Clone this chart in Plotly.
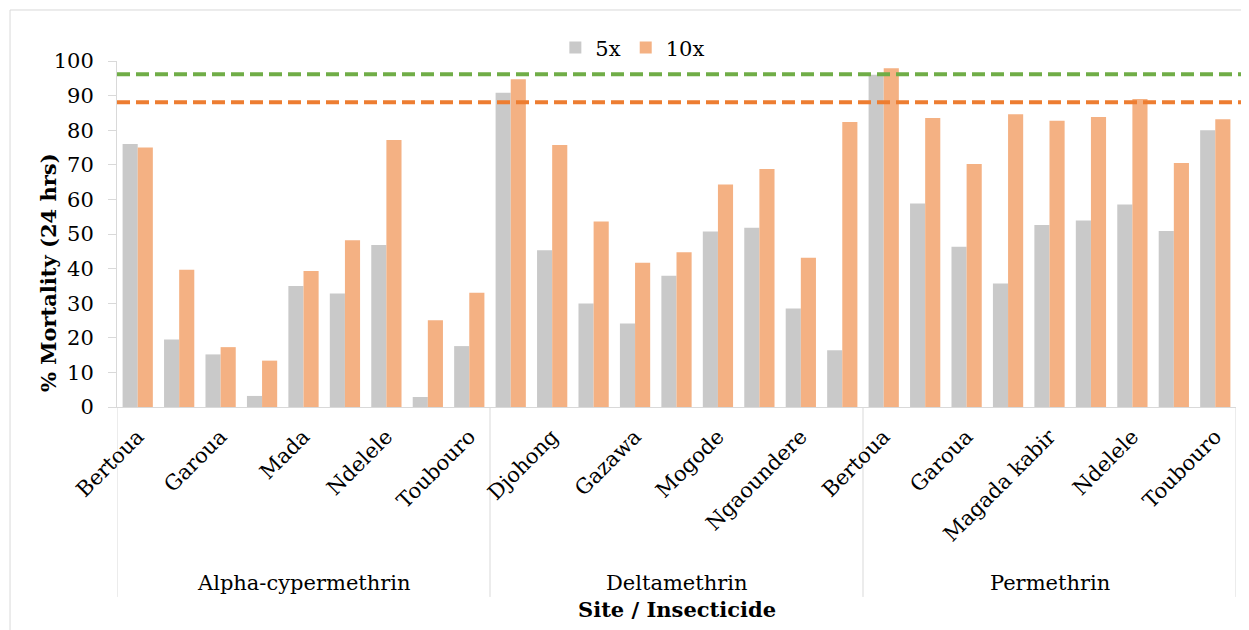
import plotly.graph_objects as go

# ---------------- data ----------------
insecticides = ["Alpha-cypermethrin", "Deltamethrin", "Permethrin"]

alpha_sites = ["Bertoua", "Djohong", "Garoua", "Gazawa", "Mada", "Mogode", "Ndelele", "Ngaoundere", "Toubouro"]
delta_sites = ["Bertoua", "Djohong", "Garoua", "Gazawa", "Mada", "Mogode", "Ndelele", "Ngaoundere", "Toubouro"]
perm_sites = ["Bertoua", "Djohong", "Garoua", "Gazawa", "Magada kabir", "Mogode", "Ndelele", "Ngaoundere", "Toubouro"]

alpha_5x = [76, 19.5, 15.2, 3.2, 35, 32.8, 46.8, 2.9, 17.6]
alpha_10x = [75, 39.7, 17.3, 13.4, 39.3, 48.2, 77.2, 25.1, 33]
delta_5x = [90.8, 45.3, 29.9, 24.1, 37.9, 50.7, 51.8, 28.5, 16.4]
delta_10x = [94.7, 75.7, 53.6, 41.7, 44.7, 64.3, 68.8, 43.1, 82.4]
perm_5x = [96, 58.8, 46.3, 35.7, 52.6, 53.9, 58.5, 50.9, 80]
perm_10x = [97.9, 83.5, 70.2, 84.6, 82.7, 83.8, 89, 70.5, 83.2]

series_names = ["5x", "10x"]
reference_lines = [96.2, 88.1]   # green, orange dashed reference levels

y_ticks = [0, 10, 20, 30, 40, 50, 60, 70, 80, 90, 100]

# ---------------- assembly ----------------
groups = [alpha_sites, delta_sites, perm_sites]
sites = alpha_sites + delta_sites + perm_sites
vals_5x = alpha_5x + delta_5x + perm_5x
vals_10x = alpha_10x + delta_10x + perm_10x
xs = list(range(len(sites)))

FONT = "DejaVu Serif"
FS = 21
GRAY = "#C9C9C9"
ORANGE = "#F4B183"
AXIS = "#D9D9D9"

fig = go.Figure()
fig.add_bar(x=xs, y=vals_5x, name=series_names[0], marker_color=GRAY, marker_line_width=0)
fig.add_bar(x=xs, y=vals_10x, name=series_names[1], marker_color=ORANGE, marker_line_width=0)

# dashed reference lines
for val, col in zip(reference_lines, ["#70AD47", "#ED7D31"]):
    fig.add_shape(type="line", xref="paper", yref="y", x0=0, x1=1.03, y0=val, y1=val,
                  line=dict(color=col, width=4, dash="13px,6px"), layer="above")

# group separators and labels
bounds = [-0.5]
for g in groups:
    bounds.append(bounds[-1] + len(g))
for b in bounds:
    fig.add_shape(type="line", xref="x", yref="paper", x0=b, x1=b, y0=0, y1=-0.549,
                  line=dict(color=AXIS, width=1), layer="below")
for i, name in enumerate(insecticides):
    fig.add_annotation(x=(bounds[i] + bounds[i + 1]) / 2, y=-0.509, xref="x", yref="paper",
                       text=name, showarrow=False, font=dict(family=FONT, size=FS, color="black"),
                       yanchor="middle")

# axis titles
fig.add_annotation(x=0.5, y=-0.584, xref="paper", yref="paper", text="<b>Site / Insecticide</b>",
                   showarrow=False, font=dict(family=FONT, size=FS, color="black"), yanchor="middle")
fig.add_annotation(x=-0.0617, y=0.39, xref="paper", yref="paper", text="<b>% Mortality (24 hrs)</b>",
                   showarrow=False, textangle=-90, font=dict(family=FONT, size=FS, color="black"),
                   xanchor="center", yanchor="middle")

# chart border
fig.add_shape(type="rect", xref="paper", yref="paper", x0=-0.0956, x1=1.03, y0=-0.7, y1=1.1474,
              line=dict(color=AXIS, width=1), layer="below")

fig.update_layout(
    width=1241, height=622,
    margin=dict(l=109, r=13, t=53, b=223),
    paper_bgcolor="white", plot_bgcolor="white",
    barmode="group", bargap=0.27, bargroupgap=0,
    font=dict(family=FONT, size=FS, color="black"),
    legend=dict(orientation="h", x=0.461, xanchor="center", y=1.038, yanchor="middle",
                font=dict(family=FONT, size=FS), bgcolor="rgba(0,0,0,0)", traceorder="normal"),
    showlegend=True,
)
fig.update_xaxes(
    range=[-0.5, len(sites) - 0.5],
    tickmode="array", tickvals=xs[::2], ticktext=sites[::2],
    tickangle=-45, ticks="", showline=True, linecolor=AXIS, linewidth=1,
    showgrid=False, zeroline=False, ticklabelstandoff=8,
    tickfont=dict(family=FONT, size=FS, color="black"),
)
fig.update_yaxes(
    range=[0, 100], tickmode="array", tickvals=y_ticks,
    ticks="outside", ticklen=8, tickcolor=AXIS, showline=True, linecolor=AXIS, linewidth=1,
    showgrid=False, zeroline=False, ticklabelstandoff=10,
    tickfont=dict(family=FONT, size=FS, color="black"),
)

fig.write_html("out.html")
